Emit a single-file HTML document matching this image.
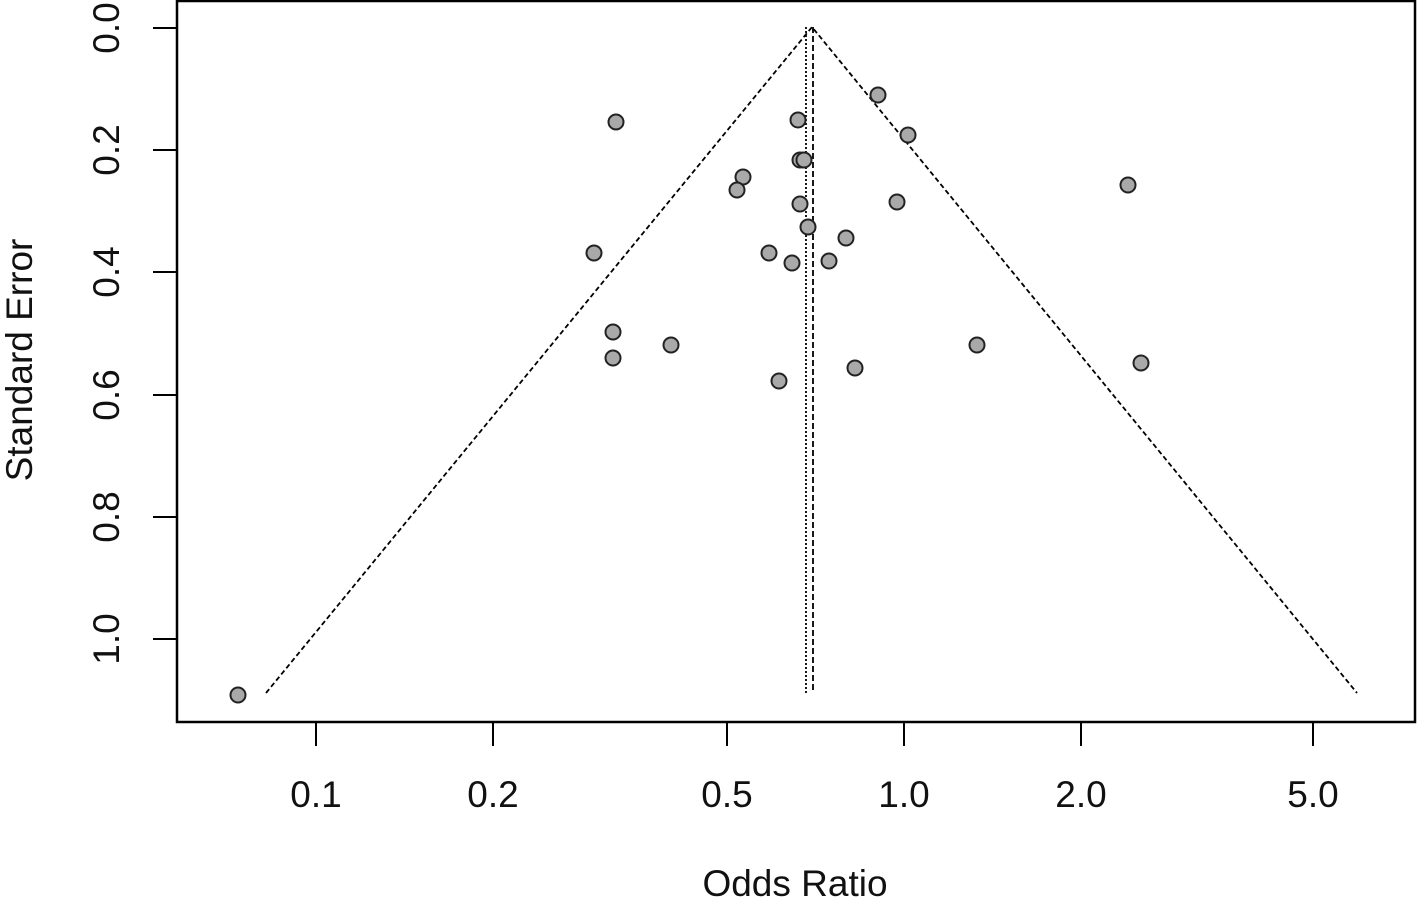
<!DOCTYPE html>
<html><head><meta charset="utf-8"><style>
html,body{margin:0;padding:0;background:#fff;}
svg{display:block;}
text{font-family:"Liberation Sans",Arial,sans-serif;fill:#111;}
</style></head><body>
<svg width="1417" height="897" viewBox="0 0 1417 897" xmlns="http://www.w3.org/2000/svg">
<rect x="177" y="1" width="1238" height="721" fill="none" stroke="#000" stroke-width="2.5"/>
<g stroke="#000" stroke-width="2">
<line x1="153" y1="28" x2="177" y2="28"/><line x1="153" y1="150" x2="177" y2="150"/>
<line x1="153" y1="272" x2="177" y2="272"/><line x1="153" y1="395" x2="177" y2="395"/>
<line x1="153" y1="517" x2="177" y2="517"/><line x1="153" y1="639" x2="177" y2="639"/>
<line x1="316" y1="722" x2="316" y2="746"/><line x1="493" y1="722" x2="493" y2="746"/>
<line x1="727" y1="722" x2="727" y2="746"/><line x1="904" y1="722" x2="904" y2="746"/>
<line x1="1081" y1="722" x2="1081" y2="746"/><line x1="1313" y1="722" x2="1313" y2="746"/>
</g>
<g font-size="37" text-anchor="middle">
<text x="316" y="807">0.1</text><text x="493" y="807">0.2</text><text x="727" y="807">0.5</text>
<text x="904" y="807">1.0</text><text x="1081" y="807">2.0</text><text x="1313" y="807">5.0</text>
<text transform="translate(119,28) rotate(-90)">0.0</text>
<text transform="translate(119,150) rotate(-90)">0.2</text>
<text transform="translate(119,272) rotate(-90)">0.4</text>
<text transform="translate(119,395) rotate(-90)">0.6</text>
<text transform="translate(119,517) rotate(-90)">0.8</text>
<text transform="translate(119,639) rotate(-90)">1.0</text>
<text x="795" y="896">Odds Ratio</text>
<text transform="translate(32,360) rotate(-90)">Standard Error</text>
</g>
<g fill="none" stroke="#000" stroke-width="1.8">
<polyline points="266,693 812,27 1357,693" stroke-dasharray="5,3"/>
<line x1="806" y1="27" x2="806" y2="693" stroke-dasharray="2,2"/>
<line x1="813" y1="27" x2="813" y2="693" stroke-dasharray="6,3"/>
</g>
<g fill="#a9a9a9" stroke="#222" stroke-width="2">
<circle cx="238" cy="695" r="7.5"/><circle cx="616" cy="122" r="7.5"/><circle cx="798" cy="120" r="7.5"/>
<circle cx="878" cy="95" r="7.5"/><circle cx="908" cy="135" r="7.5"/><circle cx="800" cy="160" r="7.5"/>
<circle cx="804" cy="160" r="7.5"/><circle cx="743" cy="177" r="7.5"/><circle cx="737" cy="190" r="7.5"/>
<circle cx="1128" cy="185" r="7.5"/><circle cx="800" cy="204" r="7.5"/><circle cx="897" cy="202" r="7.5"/>
<circle cx="808" cy="227" r="7.5"/><circle cx="846" cy="238" r="7.5"/><circle cx="594" cy="253" r="7.5"/>
<circle cx="769" cy="253" r="7.5"/><circle cx="792" cy="263" r="7.5"/><circle cx="829" cy="261" r="7.5"/>
<circle cx="613" cy="332" r="7.5"/><circle cx="613" cy="358" r="7.5"/><circle cx="671" cy="345" r="7.5"/>
<circle cx="977" cy="345" r="7.5"/><circle cx="1141" cy="363" r="7.5"/><circle cx="855" cy="368" r="7.5"/>
<circle cx="779" cy="381" r="7.5"/>
</g>
</svg>
</body></html>
